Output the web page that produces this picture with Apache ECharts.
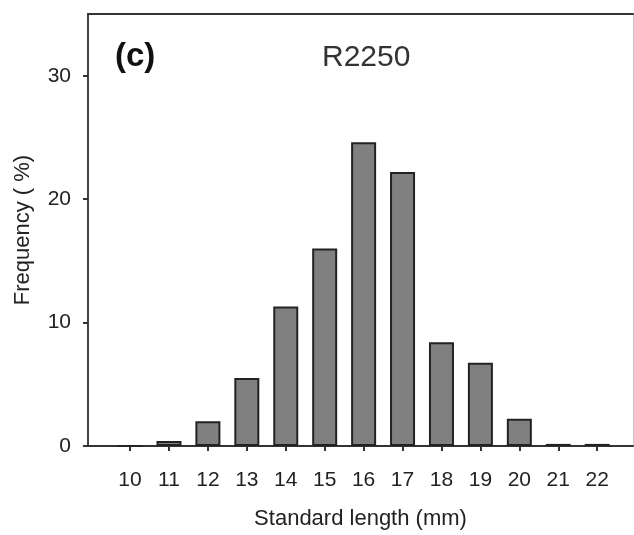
<!DOCTYPE html>
<html>
<head>
<meta charset="utf-8">
<script src="https://cdn.jsdelivr.net/npm/echarts@6/dist/echarts.min.js"></script>
<style>
  html, body { margin: 0; padding: 0; background: #fff; }
  #chart { width: 634px; height: 535px; }
</style>
</head>
<body>
<div id="chart"></div>
<script>
// standard length classes (mm) and frequency (%)
const lengths = [10, 11, 12, 13, 14, 15, 16, 17, 18, 19, 20, 21, 22]
const frequency = [0, 0.4, 2.0, 5.5, 11.3, 16.0, 24.6, 22.2, 8.4, 6.75, 2.2, 0.17, 0.17]
const yTicks = [0, 10, 20, 30]

const font = '"Liberation Sans", Arial, sans-serif'
const ink = '#222'

const chart = echarts.init(document.getElementById('chart'), null, { renderer: 'canvas' })

chart.setOption({
  backgroundColor: '#fff',
  animation: false,
  textStyle: { fontFamily: font, color: ink },
  title: [
    {
      text: '(c)',
      left: 115,
      top: 40,
      padding: 0,
      textStyle: { fontFamily: font, fontSize: 33, fontWeight: 'bold', color: '#111' },
    },
    {
      text: 'R2250',
      left: 322,
      top: 43,
      padding: 0,
      textStyle: { fontFamily: font, fontSize: 30, fontWeight: 'normal', color: '#333' },
    },
  ],
  grid: { left: 88, top: 14, right: 1, bottom: 86, containLabel: false },
  xAxis: [
    {
      type: 'value',
      min: 8.92,
      max: 22.92,
      name: 'Standard length (mm)',
      nameLocation: 'middle',
      nameGap: 62,
      nameTextStyle: { fontFamily: font, fontSize: 22, color: ink },
      axisLine: { show: true, onZero: false, lineStyle: { color: '#333', width: 2 } },
      axisTick: { show: true, customValues: lengths, length: 5, inside: false, lineStyle: { color: '#333', width: 2 } },
      axisLabel: { customValues: lengths, fontFamily: font, fontSize: 21, color: ink, margin: 24 },
      splitLine: { show: false },
    },
    {
      type: 'value',
      position: 'top',
      min: 8.92,
      max: 22.92,
      axisLine: { show: true, onZero: false, lineStyle: { color: '#333', width: 2 } },
      axisTick: { show: false },
      axisLabel: { show: false },
      splitLine: { show: false },
    },
  ],
  yAxis: [
    {
      type: 'value',
      min: 0,
      max: 35,
      interval: 10,
      name: 'Frequency ( %)',
      nameLocation: 'middle',
      nameGap: 54,
      nameRotate: 90,
      nameTextStyle: { fontFamily: font, fontSize: 22, color: ink },
      axisLine: { show: true, onZero: false, lineStyle: { color: '#444', width: 2 } },
      axisTick: { show: true, customValues: yTicks, length: 5, lineStyle: { color: '#333', width: 2 } },
      axisLabel: { customValues: yTicks, fontFamily: font, fontSize: 21, color: ink, margin: 17 },
      splitLine: { show: false },
    },
    {
      type: 'value',
      position: 'right',
      min: 0,
      max: 35,
      axisLine: { show: true, onZero: false, lineStyle: { color: '#c8c8c8', width: 1 } },
      axisTick: { show: false },
      axisLabel: { show: false },
      splitLine: { show: false },
    },
  ],
  series: [
    {
      type: 'bar',
      xAxisIndex: 0,
      yAxisIndex: 0,
      barWidth: 25,
      data: lengths.map((len, i) => [len, frequency[i]]),
      itemStyle: { color: '#808080', borderColor: '#222', borderWidth: 2 },
    },
  ],
})
</script>
</body>
</html>
